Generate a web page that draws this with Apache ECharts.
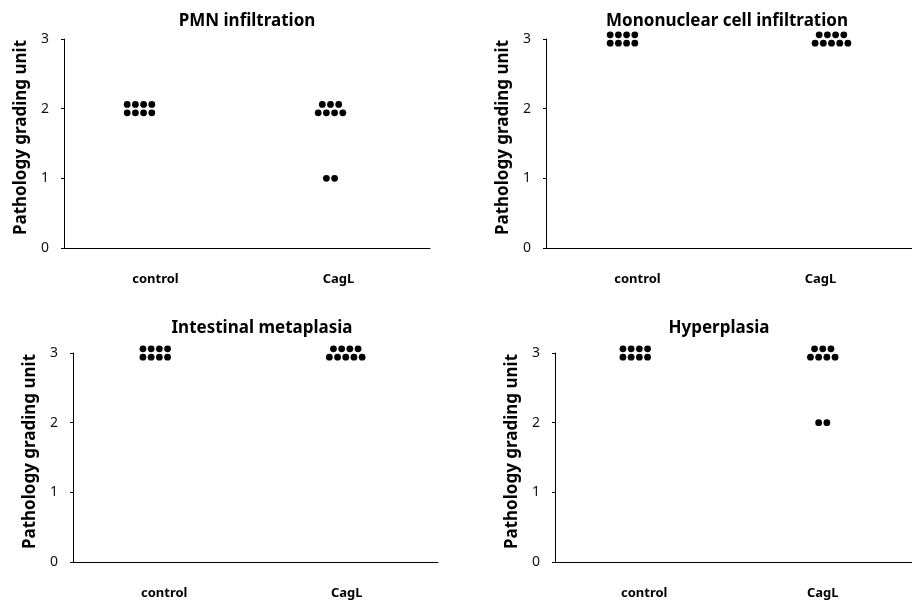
<!DOCTYPE html>
<html>
<head>
<meta charset="utf-8">
<title>Pathology grading</title>
<script src="https://cdn.jsdelivr.net/npm/echarts@6/dist/echarts.min.js"></script>
<style>
    html, body { margin: 0; padding: 0; background: #fff; }
    #chart { width: 912px; height: 602px; }
</style>
</head>
<body>
<div id="chart"></div>
<script>
// 病理评分散点图 - 四个小图

const groups = ['control', 'CagL'];
const yTicks = [0, 1, 2, 3];

const pmnControl = [2, 2, 2, 2, 2, 2, 2, 2];
const pmnCagL = [2, 2, 2, 2, 2, 2, 2, 1, 1];
const monoControl = [3, 3, 3, 3, 3, 3, 3, 3];
const monoCagL = [3, 3, 3, 3, 3, 3, 3, 3, 3];
const metaControl = [3, 3, 3, 3, 3, 3, 3, 3];
const metaCagL = [3, 3, 3, 3, 3, 3, 3, 3, 3];
const hyperControl = [3, 3, 3, 3, 3, 3, 3, 3];
const hyperCagL = [3, 3, 3, 3, 3, 3, 3, 2, 2];

const titles = ['PMN infiltration', 'Mononuclear cell infiltration', 'Intestinal metaplasia', 'Hyperplasia'];
const seriesData = [
    [pmnControl, pmnCagL],
    [monoControl, monoCagL],
    [metaControl, metaCagL],
    [hyperControl, hyperCagL]
];

const FONT = '"Noto Sans", "Noto Sans CJK KR", sans-serif';
const DOT = 6.8;
const DOT_GAP = 8.2;
const ROW_GAP = 8.4;

// 每个小图的位置 (像素)
const panels = [
    { left: 64, top: 39, width: 366, titleX: 242, titleY: 8, shift: [-16, -8] },
    { left: 546, top: 39, width: 366, titleX: 722, titleY: 8, shift: [-15, 11] },
    { left: 73, top: 353, width: 365, titleX: 257, titleY: 315, shift: [-9, -1] },
    { left: 555, top: 353, width: 365, titleX: 714, titleY: 315, shift: [-9, 0] }
];
const PANEL_H = 209;

/**
 * 同一分值的点排成一行或两行
 */
function swarm(values, groupIndex, shift) {
    const counts = {};
    values.forEach((v) => { counts[v] = (counts[v] || 0) + 1; });
    const seen = {};
    return values.map((v) => {
        const n = counts[v];
        const i = seen[v] = (seen[v] === undefined ? 0 : seen[v] + 1);
        let rowLen = n;
        let col = i;
        let dy = 0;
        if (n > 4) {
            const top = Math.floor(n / 2);
            if (i < top) {
                rowLen = top;
                dy = -ROW_GAP / 2;
            } else {
                rowLen = n - top;
                col = i - top;
                dy = ROW_GAP / 2;
            }
        }
        const dx = (col - (rowLen - 1) / 2) * DOT_GAP + shift;
        return { value: [groups[groupIndex], v], symbolOffset: [dx, dy] };
    });
}

const chart = echarts.init(document.getElementById('chart'), null, { renderer: 'canvas' });

const option = {
    animation: false,
    backgroundColor: '#fff',
    textStyle: { fontFamily: FONT },
    title: panels.map((p, k) => ({
        text: titles[k],
        left: p.titleX,
        top: p.titleY,
        textAlign: 'center',
        textStyle: { fontFamily: FONT, fontSize: 17, fontWeight: 'bold', color: '#000' }
    })),
    grid: panels.map((p) => ({
        left: p.left,
        top: p.top,
        width: p.width,
        height: PANEL_H,
        containLabel: false
    })),
    xAxis: panels.map((p, k) => ({
        type: 'category',
        gridIndex: k,
        data: groups,
        boundaryGap: true,
        axisLine: { lineStyle: { color: '#000', width: 1 } },
        axisTick: { inside: true, length: 4, lineStyle: { color: '#000' } },
        axisLabel: { margin: 25, fontFamily: FONT, fontSize: 13, fontWeight: 'bold', color: '#000' },
        splitLine: { show: false }
    })),
    yAxis: panels.map((p, k) => ({
        type: 'value',
        gridIndex: k,
        min: yTicks[0],
        max: yTicks[yTicks.length - 1],
        interval: 1,
        name: 'Pathology grading unit',
        nameLocation: 'middle',
        nameGap: 34,
        nameTextStyle: {
            fontFamily: FONT,
            fontSize: 17,
            fontWeight: 'bold',
            color: '#000',
            padding: [0, 0, 0, 12]
        },
        axisLine: { show: true, lineStyle: { color: '#000', width: 1 } },
        axisTick: { show: true, length: 3, lineStyle: { color: '#000' } },
        axisLabel: { margin: 15, fontFamily: FONT, fontSize: 14, color: '#111' },
        splitLine: { show: false }
    })),
    series: []
};

seriesData.forEach((pair, k) => {
    pair.forEach((values, g) => {
        option.series.push({
            type: 'scatter',
            xAxisIndex: k,
            yAxisIndex: k,
            symbol: 'circle',
            symbolSize: DOT,
            clip: false,
            itemStyle: { color: '#000', opacity: 1 },
            data: swarm(values, g, panels[k].shift[g])
        });
    });
});

chart.setOption(option);
</script>
</body>
</html>
